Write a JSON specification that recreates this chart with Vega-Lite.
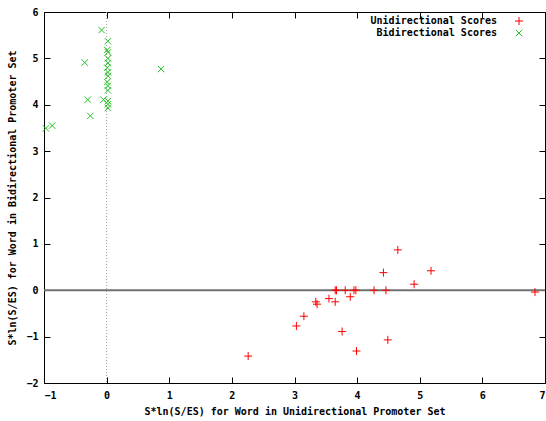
{
  "$schema": "https://vega.github.io/schema/vega-lite/v6.json",
  "autosize": {"type": "none"},
  "width": 501,
  "height": 371,
  "padding": {"left": 44, "top": 12, "right": 1, "bottom": 38},
  "background": "white",
  "config": {
    "view": {"stroke": "black", "strokeWidth": 1},
    "font": "DejaVu Sans Mono",
    "axis": {
      "labelFont": "DejaVu Sans Mono", "labelFontWeight": "bold", "labelFontSize": 10, "labelColor": "black",
      "titleFont": "DejaVu Sans Mono", "titleFontWeight": "bold", "titleFontSize": 10, "titleColor": "black",
      "domainColor": "black", "tickColor": "black", "grid": false, "tickSize": 6, "offset": -6, "labelPadding": 7
    },
    "legend": {
      "labelFont": "DejaVu Sans Mono", "labelFontWeight": "bold", "labelFontSize": 10, "labelColor": "black"
    }
  },
  "datasets": {
    "pts": [
      {"x": -0.08, "y": 5.61, "series": "Bidirectional Scores"},
      {"x": -0.35, "y": 4.91, "series": "Bidirectional Scores"},
      {"x": 0.87, "y": 4.77, "series": "Bidirectional Scores"},
      {"x": -0.30, "y": 4.11, "series": "Bidirectional Scores"},
      {"x": -0.05, "y": 4.11, "series": "Bidirectional Scores"},
      {"x": -0.26, "y": 3.76, "series": "Bidirectional Scores"},
      {"x": -0.97, "y": 3.49, "series": "Bidirectional Scores"},
      {"x": -0.87, "y": 3.55, "series": "Bidirectional Scores"},
      {"x": 0.02, "y": 5.37, "series": "Bidirectional Scores"},
      {"x": 0.01, "y": 5.18, "series": "Bidirectional Scores"},
      {"x": 0.02, "y": 5.13, "series": "Bidirectional Scores"},
      {"x": 0.02, "y": 5.00, "series": "Bidirectional Scores"},
      {"x": 0.02, "y": 4.90, "series": "Bidirectional Scores"},
      {"x": 0.01, "y": 4.80, "series": "Bidirectional Scores"},
      {"x": 0.02, "y": 4.70, "series": "Bidirectional Scores"},
      {"x": 0.02, "y": 4.62, "series": "Bidirectional Scores"},
      {"x": 0.01, "y": 4.49, "series": "Bidirectional Scores"},
      {"x": 0.02, "y": 4.41, "series": "Bidirectional Scores"},
      {"x": 0.02, "y": 4.31, "series": "Bidirectional Scores"},
      {"x": 0.02, "y": 4.08, "series": "Bidirectional Scores"},
      {"x": 0.02, "y": 4.01, "series": "Bidirectional Scores"},
      {"x": 0.02, "y": 3.93, "series": "Bidirectional Scores"},
      {"x": 2.26, "y": -1.42, "series": "Unidirectional Scores"},
      {"x": 3.03, "y": -0.77, "series": "Unidirectional Scores"},
      {"x": 3.15, "y": -0.56, "series": "Unidirectional Scores"},
      {"x": 3.34, "y": -0.25, "series": "Unidirectional Scores"},
      {"x": 3.36, "y": -0.30, "series": "Unidirectional Scores"},
      {"x": 3.55, "y": -0.18, "series": "Unidirectional Scores"},
      {"x": 3.65, "y": -0.25, "series": "Unidirectional Scores"},
      {"x": 3.76, "y": -0.89, "series": "Unidirectional Scores"},
      {"x": 3.89, "y": -0.14, "series": "Unidirectional Scores"},
      {"x": 3.99, "y": -1.31, "series": "Unidirectional Scores"},
      {"x": 3.65, "y": 0.0, "series": "Unidirectional Scores"},
      {"x": 3.67, "y": 0.0, "series": "Unidirectional Scores"},
      {"x": 3.81, "y": 0.0, "series": "Unidirectional Scores"},
      {"x": 3.95, "y": 0.0, "series": "Unidirectional Scores"},
      {"x": 3.98, "y": 0.0, "series": "Unidirectional Scores"},
      {"x": 4.27, "y": 0.0, "series": "Unidirectional Scores"},
      {"x": 4.46, "y": 0.0, "series": "Unidirectional Scores"},
      {"x": 4.42, "y": 0.38, "series": "Unidirectional Scores"},
      {"x": 4.65, "y": 0.87, "series": "Unidirectional Scores"},
      {"x": 4.91, "y": 0.13, "series": "Unidirectional Scores"},
      {"x": 4.49, "y": -1.07, "series": "Unidirectional Scores"},
      {"x": 5.18, "y": 0.42, "series": "Unidirectional Scores"},
      {"x": 6.84, "y": -0.04, "series": "Unidirectional Scores"}
    ]
  },
  "resolve": {"axis": {"x": "independent", "y": "independent"}},
  "layer": [
    {
      "data": {"values": [{"v": 0}]},
      "mark": {"type": "rule", "color": "#707070", "strokeWidth": 1.8},
      "encoding": {"y": {"field": "v", "type": "quantitative", "scale": {"domain": [-2, 6], "nice": false, "zero": false}, "axis": null}}
    },
    {
      "data": {"values": [{"v": 0}]},
      "mark": {"type": "rule", "color": "#a0a0a0", "strokeWidth": 1, "strokeDash": [1, 2]},
      "encoding": {"x": {"field": "v", "type": "quantitative", "scale": {"domain": [-1, 7], "nice": false, "zero": false}, "axis": null}}
    },
    {
      "data": {"name": "pts"},
      "mark": {"type": "point", "filled": false, "strokeWidth": 1, "size": 64, "opacity": 1},
      "encoding": {
        "x": {"field": "x", "type": "quantitative", "scale": {"domain": [-1, 7], "nice": false, "zero": false},
              "axis": {"orient": "bottom", "values": [-1,0,1,2,3,4,5,6,7], "format": "d", "title": "S*ln(S/ES) for Word in Unidirectional Promoter Set", "titlePadding": 6, "domain": false}},
        "y": {"field": "y", "type": "quantitative", "scale": {"domain": [-2, 6], "nice": false, "zero": false},
              "axis": {"orient": "left", "values": [-2,-1,0,1,2,3,4,5,6], "format": "d", "title": "S*ln(S/ES) for Word in Bidirectional Promoter Set", "titlePadding": 8, "labelPadding": 6, "domain": false}},
        "color": {"field": "series", "type": "nominal",
                  "scale": {"domain": ["Unidirectional Scores", "Bidirectional Scores"], "range": ["#ff0000", "#22c022"]},
                  "legend": {"title": null, "orient": "none", "legendX": 470, "legendY": 4, "labelAlign": "right", "labelOffset": -27, "padding": 0, "rowPadding": 0, "symbolStrokeWidth": 1, "symbolSize": 64}},
        "shape": {"field": "series", "type": "nominal",
                  "scale": {"domain": ["Unidirectional Scores", "Bidirectional Scores"], "range": ["M-1,0L1,0M0,-1L0,1", "M-0.8,-0.8L0.8,0.8M-0.8,0.8L0.8,-0.8"]}}
      }
    },
    {
      "data": {"name": "pts"},
      "mark": {"type": "point", "opacity": 0},
      "encoding": {
        "x": {"field": "x", "type": "quantitative", "scale": {"domain": [-1, 7], "nice": false, "zero": false},
              "axis": {"orient": "top", "values": [-1,0,1,2,3,4,5,6,7], "labels": false, "title": null, "domain": false}},
        "y": {"field": "y", "type": "quantitative", "scale": {"domain": [-2, 6], "nice": false, "zero": false},
              "axis": {"orient": "right", "values": [-2,-1,0,1,2,3,4,5,6], "labels": false, "title": null, "domain": false}}
      }
    }
  ]
}
